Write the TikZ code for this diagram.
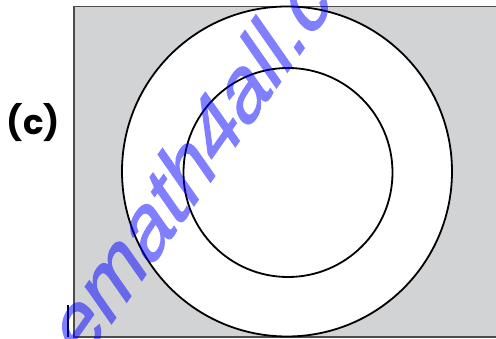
\documentclass[tikz,border=0pt]{standalone}
\usepackage{fontspec}
\setmainfont{Liberation Sans}
\newfontfamily\labelfont{Poppins}
\newfontfamily\wmfont[FakeBold=1.4]{Liberation Sans}
\definecolor{panelgray}{RGB}{209,211,213}
\begin{document}
\begin{tikzpicture}[x=1pt,y=1pt,
    ring/.style={circle,draw=black,line width=1.8pt,fill=white,inner sep=0pt},
    wmark/.style={text=blue,font=\wmfont\fontsize{70}{70}\selectfont}]
  \useasboundingbox (0,0) rectangle (496,339);
  \clip (0,0) rectangle (496,339);
  \fill[panelgray] (74,2) rectangle (500,332.3);
  \draw[gray!60!black,line width=1.6pt] (500,332.3) -- (74,332.3) -- (74,2) -- (500,2);
  \node[ring,minimum size=330pt] (outer) at (287,167.5) {};
  \node[ring,minimum size=209pt,fill=none] (inner) at (288,166.5) {};
  \draw[line width=2pt] (68.3,2) -- (68.3,34);
  \node (lbl) at (33.5,216) {\labelfont\bfseries\fontsize{34}{34}\selectfont (c)};
  \begin{scope}[transparency group,opacity=0.5]
    \begin{scope}[yscale=1.43,transform shape]
      \node[wmark,rotate=45,anchor=base west,inner sep=0pt] (wm) at (80.4,-20.5) {emath4all.com};
    \end{scope}
  \end{scope}
\end{tikzpicture}
\end{document}
